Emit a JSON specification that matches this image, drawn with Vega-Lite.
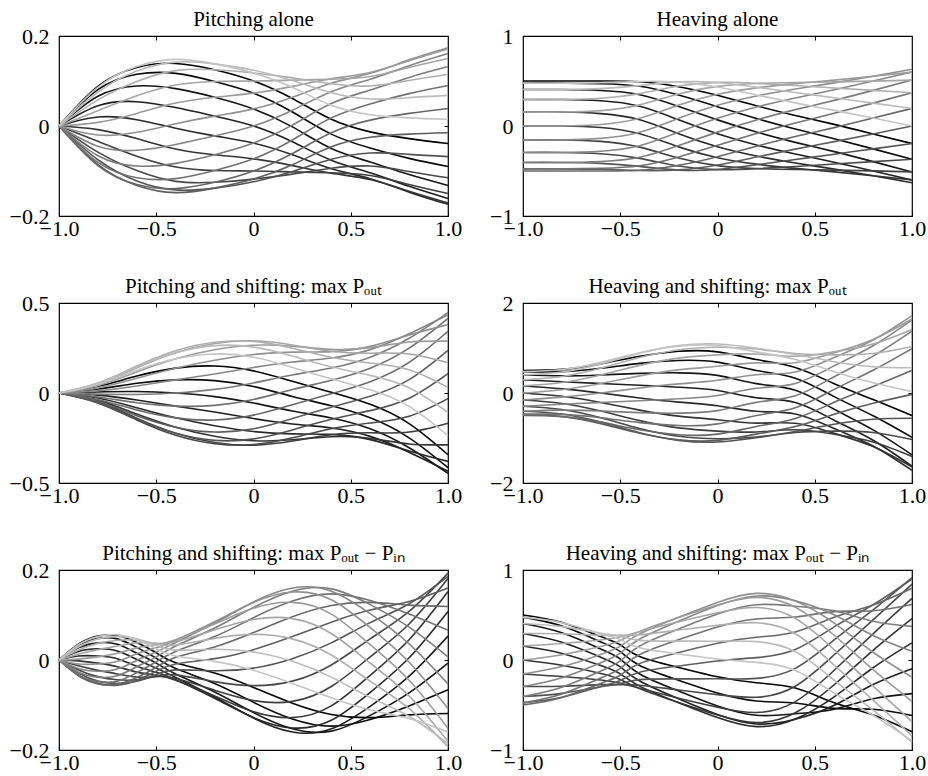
{
"$schema": "https://vega.github.io/schema/vega-lite/v6.json",
"background": "white",
"padding": {"left": 8, "top": 8, "right": 5, "bottom": 5},
"config": {
 "view": {"stroke": "#000", "strokeWidth": 1.2},
 "axis": {"grid": false, "domain": false, "tickColor": "#000", "tickWidth": 1, "tickSize": -4, "labelFont": "Liberation Serif", "labelFontSize": 22, "labelColor": "#000", "labelPadding": 6, "title": null, "labelOverlap": false},
 "axisX": {"labelFlush": false},
 "axisY": {"labelPadding": 14},
 "title": {"font": "Liberation Serif", "fontSize": 21, "fontWeight": "normal", "color": "#000", "offset": -5},
 "line": {"strokeWidth": 1.6, "interpolate": "natural", "clip": true}
},
"datasets": {
"p1": [
{"k":0,"x":-1,"y":0},{"k":0,"x":-0.8,"y":0.088},{"k":0,"x":-0.6,"y":0.13},{"k":0,"x":-0.4,"y":0.139},{"k":0,"x":-0.2,"y":0.125},{"k":0,"x":0,"y":0.1},{"k":0,"x":0.2,"y":0.061},{"k":0,"x":0.4,"y":0.015},{"k":0,"x":0.6,"y":-0.013},{"k":0,"x":0.8,"y":-0.028},{"k":0,"x":1,"y":-0.039},
{"k":1,"x":-1,"y":0},{"k":1,"x":-0.8,"y":0.081},{"k":1,"x":-0.6,"y":0.115},{"k":1,"x":-0.4,"y":0.117},{"k":1,"x":-0.2,"y":0.099},{"k":1,"x":0,"y":0.073},{"k":1,"x":0.2,"y":0.031},{"k":1,"x":0.4,"y":-0.018},{"k":1,"x":0.6,"y":-0.049},{"k":1,"x":0.8,"y":-0.072},{"k":1,"x":1,"y":-0.09},
{"k":2,"x":-1,"y":0},{"k":2,"x":-0.8,"y":0.066},{"k":2,"x":-0.6,"y":0.089},{"k":2,"x":-0.4,"y":0.083},{"k":2,"x":-0.2,"y":0.064},{"k":2,"x":0,"y":0.038},{"k":2,"x":0.2,"y":-0.002},{"k":2,"x":0.4,"y":-0.05},{"k":2,"x":0.6,"y":-0.08},{"k":2,"x":0.8,"y":-0.108},{"k":2,"x":1,"y":-0.132},
{"k":3,"x":-1,"y":0},{"k":3,"x":-0.8,"y":0.045},{"k":3,"x":-0.6,"y":0.054},{"k":3,"x":-0.4,"y":0.041},{"k":3,"x":-0.2,"y":0.022},{"k":3,"x":0,"y":0},{"k":3,"x":0.2,"y":-0.035},{"k":3,"x":0.4,"y":-0.076},{"k":3,"x":0.6,"y":-0.104},{"k":3,"x":0.8,"y":-0.134},{"k":3,"x":1,"y":-0.161},
{"k":4,"x":-1,"y":0},{"k":4,"x":-0.8,"y":0.02},{"k":4,"x":-0.6,"y":0.014},{"k":4,"x":-0.4,"y":-0.005},{"k":4,"x":-0.2,"y":-0.022},{"k":4,"x":0,"y":-0.038},{"k":4,"x":0.2,"y":-0.064},{"k":4,"x":0.4,"y":-0.095},{"k":4,"x":0.6,"y":-0.117},{"k":4,"x":0.8,"y":-0.147},{"k":4,"x":1,"y":-0.174},
{"k":5,"x":-1,"y":0},{"k":5,"x":-0.8,"y":-0.008},{"k":5,"x":-0.6,"y":-0.028},{"k":5,"x":-0.4,"y":-0.051},{"k":5,"x":-0.2,"y":-0.064},{"k":5,"x":0,"y":-0.073},{"k":5,"x":0.2,"y":-0.088},{"k":5,"x":0.4,"y":-0.105},{"k":5,"x":0.6,"y":-0.119},{"k":5,"x":0.8,"y":-0.145},{"k":5,"x":1,"y":-0.171},
{"k":6,"x":-1,"y":0},{"k":6,"x":-0.8,"y":-0.034},{"k":6,"x":-0.6,"y":-0.067},{"k":6,"x":-0.4,"y":-0.091},{"k":6,"x":-0.2,"y":-0.099},{"k":6,"x":0,"y":-0.1},{"k":6,"x":0.2,"y":-0.102},{"k":6,"x":0.4,"y":-0.104},{"k":6,"x":0.6,"y":-0.11},{"k":6,"x":0.8,"y":-0.13},{"k":6,"x":1,"y":-0.15},
{"k":7,"x":-1,"y":0},{"k":7,"x":-0.8,"y":-0.058},{"k":7,"x":-0.6,"y":-0.099},{"k":7,"x":-0.4,"y":-0.123},{"k":7,"x":-0.2,"y":-0.125},{"k":7,"x":0,"y":-0.118},{"k":7,"x":0.2,"y":-0.107},{"k":7,"x":0.4,"y":-0.094},{"k":7,"x":0.6,"y":-0.089},{"k":7,"x":0.8,"y":-0.101},{"k":7,"x":1,"y":-0.115},
{"k":8,"x":-1,"y":0},{"k":8,"x":-0.8,"y":-0.075},{"k":8,"x":-0.6,"y":-0.122},{"k":8,"x":-0.4,"y":-0.142},{"k":8,"x":-0.2,"y":-0.138},{"k":8,"x":0,"y":-0.124},{"k":8,"x":0.2,"y":-0.101},{"k":8,"x":0.4,"y":-0.074},{"k":8,"x":0.6,"y":-0.06},{"k":8,"x":0.8,"y":-0.063},{"k":8,"x":1,"y":-0.068},
{"k":9,"x":-1,"y":0},{"k":9,"x":-0.8,"y":-0.086},{"k":9,"x":-0.6,"y":-0.132},{"k":9,"x":-0.4,"y":-0.148},{"k":9,"x":-0.2,"y":-0.138},{"k":9,"x":0,"y":-0.118},{"k":9,"x":0.2,"y":-0.086},{"k":9,"x":0.4,"y":-0.046},{"k":9,"x":0.6,"y":-0.025},{"k":9,"x":0.8,"y":-0.018},{"k":9,"x":1,"y":-0.015},
{"k":10,"x":-1,"y":0},{"k":10,"x":-0.8,"y":-0.088},{"k":10,"x":-0.6,"y":-0.13},{"k":10,"x":-0.4,"y":-0.139},{"k":10,"x":-0.2,"y":-0.125},{"k":10,"x":0,"y":-0.1},{"k":10,"x":0.2,"y":-0.061},{"k":10,"x":0.4,"y":-0.015},{"k":10,"x":0.6,"y":0.013},{"k":10,"x":0.8,"y":0.028},{"k":10,"x":1,"y":0.039},
{"k":11,"x":-1,"y":0},{"k":11,"x":-0.8,"y":-0.081},{"k":11,"x":-0.6,"y":-0.115},{"k":11,"x":-0.4,"y":-0.117},{"k":11,"x":-0.2,"y":-0.099},{"k":11,"x":0,"y":-0.073},{"k":11,"x":0.2,"y":-0.031},{"k":11,"x":0.4,"y":0.018},{"k":11,"x":0.6,"y":0.049},{"k":11,"x":0.8,"y":0.072},{"k":11,"x":1,"y":0.09},
{"k":12,"x":-1,"y":0},{"k":12,"x":-0.8,"y":-0.066},{"k":12,"x":-0.6,"y":-0.089},{"k":12,"x":-0.4,"y":-0.083},{"k":12,"x":-0.2,"y":-0.064},{"k":12,"x":0,"y":-0.038},{"k":12,"x":0.2,"y":0.002},{"k":12,"x":0.4,"y":0.05},{"k":12,"x":0.6,"y":0.08},{"k":12,"x":0.8,"y":0.108},{"k":12,"x":1,"y":0.132},
{"k":13,"x":-1,"y":0},{"k":13,"x":-0.8,"y":-0.045},{"k":13,"x":-0.6,"y":-0.054},{"k":13,"x":-0.4,"y":-0.041},{"k":13,"x":-0.2,"y":-0.022},{"k":13,"x":0,"y":0},{"k":13,"x":0.2,"y":0.035},{"k":13,"x":0.4,"y":0.076},{"k":13,"x":0.6,"y":0.104},{"k":13,"x":0.8,"y":0.134},{"k":13,"x":1,"y":0.161},
{"k":14,"x":-1,"y":0},{"k":14,"x":-0.8,"y":-0.02},{"k":14,"x":-0.6,"y":-0.014},{"k":14,"x":-0.4,"y":0.005},{"k":14,"x":-0.2,"y":0.022},{"k":14,"x":0,"y":0.038},{"k":14,"x":0.2,"y":0.064},{"k":14,"x":0.4,"y":0.095},{"k":14,"x":0.6,"y":0.117},{"k":14,"x":0.8,"y":0.147},{"k":14,"x":1,"y":0.174},
{"k":15,"x":-1,"y":0},{"k":15,"x":-0.8,"y":0.008},{"k":15,"x":-0.6,"y":0.028},{"k":15,"x":-0.4,"y":0.051},{"k":15,"x":-0.2,"y":0.064},{"k":15,"x":0,"y":0.073},{"k":15,"x":0.2,"y":0.088},{"k":15,"x":0.4,"y":0.105},{"k":15,"x":0.6,"y":0.119},{"k":15,"x":0.8,"y":0.145},{"k":15,"x":1,"y":0.171},
{"k":16,"x":-1,"y":0},{"k":16,"x":-0.8,"y":0.034},{"k":16,"x":-0.6,"y":0.067},{"k":16,"x":-0.4,"y":0.091},{"k":16,"x":-0.2,"y":0.099},{"k":16,"x":0,"y":0.1},{"k":16,"x":0.2,"y":0.102},{"k":16,"x":0.4,"y":0.104},{"k":16,"x":0.6,"y":0.11},{"k":16,"x":0.8,"y":0.13},{"k":16,"x":1,"y":0.15},
{"k":17,"x":-1,"y":0},{"k":17,"x":-0.8,"y":0.058},{"k":17,"x":-0.6,"y":0.099},{"k":17,"x":-0.4,"y":0.123},{"k":17,"x":-0.2,"y":0.125},{"k":17,"x":0,"y":0.118},{"k":17,"x":0.2,"y":0.107},{"k":17,"x":0.4,"y":0.094},{"k":17,"x":0.6,"y":0.089},{"k":17,"x":0.8,"y":0.101},{"k":17,"x":1,"y":0.115},
{"k":18,"x":-1,"y":0},{"k":18,"x":-0.8,"y":0.075},{"k":18,"x":-0.6,"y":0.122},{"k":18,"x":-0.4,"y":0.142},{"k":18,"x":-0.2,"y":0.138},{"k":18,"x":0,"y":0.124},{"k":18,"x":0.2,"y":0.101},{"k":18,"x":0.4,"y":0.074},{"k":18,"x":0.6,"y":0.06},{"k":18,"x":0.8,"y":0.063},{"k":18,"x":1,"y":0.068},
{"k":19,"x":-1,"y":0},{"k":19,"x":-0.8,"y":0.086},{"k":19,"x":-0.6,"y":0.132},{"k":19,"x":-0.4,"y":0.148},{"k":19,"x":-0.2,"y":0.138},{"k":19,"x":0,"y":0.118},{"k":19,"x":0.2,"y":0.086},{"k":19,"x":0.4,"y":0.046},{"k":19,"x":0.6,"y":0.025},{"k":19,"x":0.8,"y":0.018},{"k":19,"x":1,"y":0.015}
],
"p2": [
{"k":0,"x":-1,"y":0.5},{"k":0,"x":-0.8,"y":0.5},{"k":0,"x":-0.6,"y":0.5},{"k":0,"x":-0.4,"y":0.492},{"k":0,"x":-0.2,"y":0.437},{"k":0,"x":0,"y":0.341},{"k":0,"x":0.2,"y":0.225},{"k":0,"x":0.4,"y":0.117},{"k":0,"x":0.6,"y":0.018},{"k":0,"x":0.8,"y":-0.088},{"k":0,"x":1,"y":-0.195},
{"k":1,"x":-1,"y":0.476},{"k":1,"x":-0.8,"y":0.476},{"k":1,"x":-0.6,"y":0.47},{"k":1,"x":-0.4,"y":0.442},{"k":1,"x":-0.2,"y":0.344},{"k":1,"x":0,"y":0.215},{"k":1,"x":0.2,"y":0.083},{"k":1,"x":0.4,"y":-0.034},{"k":1,"x":0.6,"y":-0.141},{"k":1,"x":0.8,"y":-0.254},{"k":1,"x":1,"y":-0.37},
{"k":2,"x":-1,"y":0.405},{"k":2,"x":-0.8,"y":0.405},{"k":2,"x":-0.6,"y":0.394},{"k":2,"x":-0.4,"y":0.347},{"k":2,"x":-0.2,"y":0.217},{"k":2,"x":0,"y":0.068},{"k":2,"x":0.2,"y":-0.067},{"k":2,"x":0.4,"y":-0.182},{"k":2,"x":0.6,"y":-0.285},{"k":2,"x":0.8,"y":-0.396},{"k":2,"x":1,"y":-0.51},
{"k":3,"x":-1,"y":0.294},{"k":3,"x":-0.8,"y":0.294},{"k":3,"x":-0.6,"y":0.28},{"k":3,"x":-0.4,"y":0.219},{"k":3,"x":-0.2,"y":0.069},{"k":3,"x":0,"y":-0.085},{"k":3,"x":0.2,"y":-0.211},{"k":3,"x":0.4,"y":-0.312},{"k":3,"x":0.6,"y":-0.402},{"k":3,"x":0.8,"y":-0.499},{"k":3,"x":1,"y":-0.599},
{"k":4,"x":-1,"y":0.155},{"k":4,"x":-0.8,"y":0.155},{"k":4,"x":-0.6,"y":0.138},{"k":4,"x":-0.4,"y":0.07},{"k":4,"x":-0.2,"y":-0.086},{"k":4,"x":0,"y":-0.23},{"k":4,"x":0.2,"y":-0.333},{"k":4,"x":0.4,"y":-0.411},{"k":4,"x":0.6,"y":-0.479},{"k":4,"x":0.8,"y":-0.553},{"k":4,"x":1,"y":-0.63},
{"k":5,"x":-1,"y":0},{"k":5,"x":-0.8,"y":0},{"k":5,"x":-0.6,"y":-0.017},{"k":5,"x":-0.4,"y":-0.087},{"k":5,"x":-0.2,"y":-0.232},{"k":5,"x":0,"y":-0.352},{"k":5,"x":0.2,"y":-0.424},{"k":5,"x":0.4,"y":-0.471},{"k":5,"x":0.6,"y":-0.51},{"k":5,"x":0.8,"y":-0.553},{"k":5,"x":1,"y":-0.599},
{"k":6,"x":-1,"y":-0.155},{"k":6,"x":-0.8,"y":-0.155},{"k":6,"x":-0.6,"y":-0.171},{"k":6,"x":-0.4,"y":-0.235},{"k":6,"x":-0.2,"y":-0.356},{"k":6,"x":0,"y":-0.44},{"k":6,"x":0.2,"y":-0.473},{"k":6,"x":0.4,"y":-0.484},{"k":6,"x":0.6,"y":-0.49},{"k":6,"x":0.8,"y":-0.499},{"k":6,"x":1,"y":-0.51},
{"k":7,"x":-1,"y":-0.294},{"k":7,"x":-0.8,"y":-0.294},{"k":7,"x":-0.6,"y":-0.308},{"k":7,"x":-0.4,"y":-0.36},{"k":7,"x":-0.2,"y":-0.445},{"k":7,"x":0,"y":-0.485},{"k":7,"x":0.2,"y":-0.475},{"k":7,"x":0.4,"y":-0.45},{"k":7,"x":0.6,"y":-0.423},{"k":7,"x":0.8,"y":-0.396},{"k":7,"x":1,"y":-0.37},
{"k":8,"x":-1,"y":-0.405},{"k":8,"x":-0.8,"y":-0.405},{"k":8,"x":-0.6,"y":-0.415},{"k":8,"x":-0.4,"y":-0.449},{"k":8,"x":-0.2,"y":-0.49},{"k":8,"x":0,"y":-0.483},{"k":8,"x":0.2,"y":-0.431},{"k":8,"x":0.4,"y":-0.372},{"k":8,"x":0.6,"y":-0.314},{"k":8,"x":0.8,"y":-0.254},{"k":8,"x":1,"y":-0.195},
{"k":9,"x":-1,"y":-0.476},{"k":9,"x":-0.8,"y":-0.476},{"k":9,"x":-0.6,"y":-0.481},{"k":9,"x":-0.4,"y":-0.495},{"k":9,"x":-0.2,"y":-0.488},{"k":9,"x":0,"y":-0.433},{"k":9,"x":0.2,"y":-0.345},{"k":9,"x":0.4,"y":-0.257},{"k":9,"x":0.6,"y":-0.174},{"k":9,"x":0.8,"y":-0.088},{"k":9,"x":1,"y":0},
{"k":10,"x":-1,"y":-0.5},{"k":10,"x":-0.8,"y":-0.5},{"k":10,"x":-0.6,"y":-0.5},{"k":10,"x":-0.4,"y":-0.492},{"k":10,"x":-0.2,"y":-0.437},{"k":10,"x":0,"y":-0.341},{"k":10,"x":0.2,"y":-0.225},{"k":10,"x":0.4,"y":-0.117},{"k":10,"x":0.6,"y":-0.018},{"k":10,"x":0.8,"y":0.088},{"k":10,"x":1,"y":0.195},
{"k":11,"x":-1,"y":-0.476},{"k":11,"x":-0.8,"y":-0.476},{"k":11,"x":-0.6,"y":-0.47},{"k":11,"x":-0.4,"y":-0.442},{"k":11,"x":-0.2,"y":-0.344},{"k":11,"x":0,"y":-0.215},{"k":11,"x":0.2,"y":-0.083},{"k":11,"x":0.4,"y":0.034},{"k":11,"x":0.6,"y":0.141},{"k":11,"x":0.8,"y":0.254},{"k":11,"x":1,"y":0.37},
{"k":12,"x":-1,"y":-0.405},{"k":12,"x":-0.8,"y":-0.405},{"k":12,"x":-0.6,"y":-0.394},{"k":12,"x":-0.4,"y":-0.347},{"k":12,"x":-0.2,"y":-0.217},{"k":12,"x":0,"y":-0.068},{"k":12,"x":0.2,"y":0.067},{"k":12,"x":0.4,"y":0.182},{"k":12,"x":0.6,"y":0.285},{"k":12,"x":0.8,"y":0.396},{"k":12,"x":1,"y":0.51},
{"k":13,"x":-1,"y":-0.294},{"k":13,"x":-0.8,"y":-0.294},{"k":13,"x":-0.6,"y":-0.28},{"k":13,"x":-0.4,"y":-0.219},{"k":13,"x":-0.2,"y":-0.069},{"k":13,"x":0,"y":0.085},{"k":13,"x":0.2,"y":0.211},{"k":13,"x":0.4,"y":0.312},{"k":13,"x":0.6,"y":0.402},{"k":13,"x":0.8,"y":0.499},{"k":13,"x":1,"y":0.599},
{"k":14,"x":-1,"y":-0.155},{"k":14,"x":-0.8,"y":-0.155},{"k":14,"x":-0.6,"y":-0.138},{"k":14,"x":-0.4,"y":-0.07},{"k":14,"x":-0.2,"y":0.086},{"k":14,"x":0,"y":0.23},{"k":14,"x":0.2,"y":0.333},{"k":14,"x":0.4,"y":0.411},{"k":14,"x":0.6,"y":0.479},{"k":14,"x":0.8,"y":0.553},{"k":14,"x":1,"y":0.63},
{"k":15,"x":-1,"y":0},{"k":15,"x":-0.8,"y":0},{"k":15,"x":-0.6,"y":0.017},{"k":15,"x":-0.4,"y":0.087},{"k":15,"x":-0.2,"y":0.232},{"k":15,"x":0,"y":0.352},{"k":15,"x":0.2,"y":0.424},{"k":15,"x":0.4,"y":0.471},{"k":15,"x":0.6,"y":0.51},{"k":15,"x":0.8,"y":0.553},{"k":15,"x":1,"y":0.599},
{"k":16,"x":-1,"y":0.155},{"k":16,"x":-0.8,"y":0.155},{"k":16,"x":-0.6,"y":0.171},{"k":16,"x":-0.4,"y":0.235},{"k":16,"x":-0.2,"y":0.356},{"k":16,"x":0,"y":0.44},{"k":16,"x":0.2,"y":0.473},{"k":16,"x":0.4,"y":0.484},{"k":16,"x":0.6,"y":0.49},{"k":16,"x":0.8,"y":0.499},{"k":16,"x":1,"y":0.51},
{"k":17,"x":-1,"y":0.294},{"k":17,"x":-0.8,"y":0.294},{"k":17,"x":-0.6,"y":0.308},{"k":17,"x":-0.4,"y":0.36},{"k":17,"x":-0.2,"y":0.445},{"k":17,"x":0,"y":0.485},{"k":17,"x":0.2,"y":0.475},{"k":17,"x":0.4,"y":0.45},{"k":17,"x":0.6,"y":0.423},{"k":17,"x":0.8,"y":0.396},{"k":17,"x":1,"y":0.37},
{"k":18,"x":-1,"y":0.405},{"k":18,"x":-0.8,"y":0.405},{"k":18,"x":-0.6,"y":0.415},{"k":18,"x":-0.4,"y":0.449},{"k":18,"x":-0.2,"y":0.49},{"k":18,"x":0,"y":0.483},{"k":18,"x":0.2,"y":0.431},{"k":18,"x":0.4,"y":0.372},{"k":18,"x":0.6,"y":0.314},{"k":18,"x":0.8,"y":0.254},{"k":18,"x":1,"y":0.195},
{"k":19,"x":-1,"y":0.476},{"k":19,"x":-0.8,"y":0.476},{"k":19,"x":-0.6,"y":0.481},{"k":19,"x":-0.4,"y":0.495},{"k":19,"x":-0.2,"y":0.488},{"k":19,"x":0,"y":0.433},{"k":19,"x":0.2,"y":0.345},{"k":19,"x":0.4,"y":0.257},{"k":19,"x":0.6,"y":0.174},{"k":19,"x":0.8,"y":0.088},{"k":19,"x":1,"y":0}
],
"p3": [
{"k":0,"x":-1,"y":0},{"k":0,"x":-0.8,"y":0.037},{"k":0,"x":-0.6,"y":0.094},{"k":0,"x":-0.4,"y":0.138},{"k":0,"x":-0.2,"y":0.15},{"k":0,"x":0,"y":0.123},{"k":0,"x":0.2,"y":0.065},{"k":0,"x":0.4,"y":0.004},{"k":0,"x":0.6,"y":-0.063},{"k":0,"x":0.8,"y":-0.17},{"k":0,"x":1,"y":-0.343},
{"k":1,"x":-1,"y":0},{"k":1,"x":-0.8,"y":0.022},{"k":1,"x":-0.6,"y":0.054},{"k":1,"x":-0.4,"y":0.073},{"k":1,"x":-0.2,"y":0.069},{"k":1,"x":0,"y":0.036},{"k":1,"x":0.2,"y":-0.019},{"k":1,"x":0.4,"y":-0.071},{"k":1,"x":0.6,"y":-0.138},{"k":1,"x":0.8,"y":-0.249},{"k":1,"x":1,"y":-0.415},
{"k":2,"x":-1,"y":0},{"k":2,"x":-0.8,"y":0.006},{"k":2,"x":-0.6,"y":0.008},{"k":2,"x":-0.4,"y":0},{"k":2,"x":-0.2,"y":-0.02},{"k":2,"x":0,"y":-0.056},{"k":2,"x":0.2,"y":-0.1},{"k":2,"x":0.4,"y":-0.139},{"k":2,"x":0.6,"y":-0.199},{"k":2,"x":0.8,"y":-0.304},{"k":2,"x":1,"y":-0.447},
{"k":3,"x":-1,"y":0},{"k":3,"x":-0.8,"y":-0.012},{"k":3,"x":-0.6,"y":-0.039},{"k":3,"x":-0.4,"y":-0.073},{"k":3,"x":-0.2,"y":-0.106},{"k":3,"x":0,"y":-0.142},{"k":3,"x":0.2,"y":-0.172},{"k":3,"x":0.4,"y":-0.194},{"k":3,"x":0.6,"y":-0.241},{"k":3,"x":0.8,"y":-0.329},{"k":3,"x":1,"y":-0.435},
{"k":4,"x":-1,"y":0},{"k":4,"x":-0.8,"y":-0.028},{"k":4,"x":-0.6,"y":-0.082},{"k":4,"x":-0.4,"y":-0.138},{"k":4,"x":-0.2,"y":-0.182},{"k":4,"x":0,"y":-0.214},{"k":4,"x":0.2,"y":-0.227},{"k":4,"x":0.4,"y":-0.23},{"k":4,"x":0.6,"y":-0.259},{"k":4,"x":0.8,"y":-0.322},{"k":4,"x":1,"y":-0.38},
{"k":5,"x":-1,"y":0},{"k":5,"x":-0.8,"y":-0.041},{"k":5,"x":-0.6,"y":-0.117},{"k":5,"x":-0.4,"y":-0.19},{"k":5,"x":-0.2,"y":-0.24},{"k":5,"x":0,"y":-0.265},{"k":5,"x":0.2,"y":-0.26},{"k":5,"x":0.4,"y":-0.243},{"k":5,"x":0.6,"y":-0.252},{"k":5,"x":0.8,"y":-0.283},{"k":5,"x":1,"y":-0.288},
{"k":6,"x":-1,"y":0},{"k":6,"x":-0.8,"y":-0.05},{"k":6,"x":-0.6,"y":-0.14},{"k":6,"x":-0.4,"y":-0.224},{"k":6,"x":-0.2,"y":-0.275},{"k":6,"x":0,"y":-0.29},{"k":6,"x":0.2,"y":-0.267},{"k":6,"x":0.4,"y":-0.232},{"k":6,"x":0.6,"y":-0.221},{"k":6,"x":0.8,"y":-0.217},{"k":6,"x":1,"y":-0.168},
{"k":7,"x":-1,"y":0},{"k":7,"x":-0.8,"y":-0.055},{"k":7,"x":-0.6,"y":-0.15},{"k":7,"x":-0.4,"y":-0.235},{"k":7,"x":-0.2,"y":-0.282},{"k":7,"x":0,"y":-0.287},{"k":7,"x":0.2,"y":-0.249},{"k":7,"x":0.4,"y":-0.199},{"k":7,"x":0.6,"y":-0.167},{"k":7,"x":0.8,"y":-0.129},{"k":7,"x":1,"y":-0.031},
{"k":8,"x":-1,"y":0},{"k":8,"x":-0.8,"y":-0.054},{"k":8,"x":-0.6,"y":-0.145},{"k":8,"x":-0.4,"y":-0.224},{"k":8,"x":-0.2,"y":-0.263},{"k":8,"x":0,"y":-0.255},{"k":8,"x":0.2,"y":-0.205},{"k":8,"x":0.4,"y":-0.146},{"k":8,"x":0.6,"y":-0.098},{"k":8,"x":0.8,"y":-0.029},{"k":8,"x":1,"y":0.108},
{"k":9,"x":-1,"y":0},{"k":9,"x":-0.8,"y":-0.048},{"k":9,"x":-0.6,"y":-0.126},{"k":9,"x":-0.4,"y":-0.19},{"k":9,"x":-0.2,"y":-0.217},{"k":9,"x":0,"y":-0.199},{"k":9,"x":0.2,"y":-0.142},{"k":9,"x":0.4,"y":-0.079},{"k":9,"x":0.6,"y":-0.018},{"k":9,"x":0.8,"y":0.074},{"k":9,"x":1,"y":0.237},
{"k":10,"x":-1,"y":0},{"k":10,"x":-0.8,"y":-0.037},{"k":10,"x":-0.6,"y":-0.094},{"k":10,"x":-0.4,"y":-0.138},{"k":10,"x":-0.2,"y":-0.15},{"k":10,"x":0,"y":-0.123},{"k":10,"x":0.2,"y":-0.065},{"k":10,"x":0.4,"y":-0.004},{"k":10,"x":0.6,"y":0.063},{"k":10,"x":0.8,"y":0.17},{"k":10,"x":1,"y":0.343},
{"k":11,"x":-1,"y":0},{"k":11,"x":-0.8,"y":-0.022},{"k":11,"x":-0.6,"y":-0.054},{"k":11,"x":-0.4,"y":-0.073},{"k":11,"x":-0.2,"y":-0.069},{"k":11,"x":0,"y":-0.036},{"k":11,"x":0.2,"y":0.019},{"k":11,"x":0.4,"y":0.071},{"k":11,"x":0.6,"y":0.138},{"k":11,"x":0.8,"y":0.249},{"k":11,"x":1,"y":0.415},
{"k":12,"x":-1,"y":0},{"k":12,"x":-0.8,"y":-0.006},{"k":12,"x":-0.6,"y":-0.008},{"k":12,"x":-0.4,"y":0},{"k":12,"x":-0.2,"y":0.02},{"k":12,"x":0,"y":0.056},{"k":12,"x":0.2,"y":0.1},{"k":12,"x":0.4,"y":0.139},{"k":12,"x":0.6,"y":0.199},{"k":12,"x":0.8,"y":0.304},{"k":12,"x":1,"y":0.447},
{"k":13,"x":-1,"y":0},{"k":13,"x":-0.8,"y":0.012},{"k":13,"x":-0.6,"y":0.039},{"k":13,"x":-0.4,"y":0.073},{"k":13,"x":-0.2,"y":0.106},{"k":13,"x":0,"y":0.142},{"k":13,"x":0.2,"y":0.172},{"k":13,"x":0.4,"y":0.194},{"k":13,"x":0.6,"y":0.241},{"k":13,"x":0.8,"y":0.329},{"k":13,"x":1,"y":0.435},
{"k":14,"x":-1,"y":0},{"k":14,"x":-0.8,"y":0.028},{"k":14,"x":-0.6,"y":0.082},{"k":14,"x":-0.4,"y":0.138},{"k":14,"x":-0.2,"y":0.182},{"k":14,"x":0,"y":0.214},{"k":14,"x":0.2,"y":0.227},{"k":14,"x":0.4,"y":0.23},{"k":14,"x":0.6,"y":0.259},{"k":14,"x":0.8,"y":0.322},{"k":14,"x":1,"y":0.38},
{"k":15,"x":-1,"y":0},{"k":15,"x":-0.8,"y":0.041},{"k":15,"x":-0.6,"y":0.117},{"k":15,"x":-0.4,"y":0.19},{"k":15,"x":-0.2,"y":0.24},{"k":15,"x":0,"y":0.265},{"k":15,"x":0.2,"y":0.26},{"k":15,"x":0.4,"y":0.243},{"k":15,"x":0.6,"y":0.252},{"k":15,"x":0.8,"y":0.283},{"k":15,"x":1,"y":0.288},
{"k":16,"x":-1,"y":0},{"k":16,"x":-0.8,"y":0.05},{"k":16,"x":-0.6,"y":0.14},{"k":16,"x":-0.4,"y":0.224},{"k":16,"x":-0.2,"y":0.275},{"k":16,"x":0,"y":0.29},{"k":16,"x":0.2,"y":0.267},{"k":16,"x":0.4,"y":0.232},{"k":16,"x":0.6,"y":0.221},{"k":16,"x":0.8,"y":0.217},{"k":16,"x":1,"y":0.168},
{"k":17,"x":-1,"y":0},{"k":17,"x":-0.8,"y":0.055},{"k":17,"x":-0.6,"y":0.15},{"k":17,"x":-0.4,"y":0.235},{"k":17,"x":-0.2,"y":0.282},{"k":17,"x":0,"y":0.287},{"k":17,"x":0.2,"y":0.249},{"k":17,"x":0.4,"y":0.199},{"k":17,"x":0.6,"y":0.167},{"k":17,"x":0.8,"y":0.129},{"k":17,"x":1,"y":0.031},
{"k":18,"x":-1,"y":0},{"k":18,"x":-0.8,"y":0.054},{"k":18,"x":-0.6,"y":0.145},{"k":18,"x":-0.4,"y":0.224},{"k":18,"x":-0.2,"y":0.263},{"k":18,"x":0,"y":0.255},{"k":18,"x":0.2,"y":0.205},{"k":18,"x":0.4,"y":0.146},{"k":18,"x":0.6,"y":0.098},{"k":18,"x":0.8,"y":0.029},{"k":18,"x":1,"y":-0.108},
{"k":19,"x":-1,"y":0},{"k":19,"x":-0.8,"y":0.048},{"k":19,"x":-0.6,"y":0.126},{"k":19,"x":-0.4,"y":0.19},{"k":19,"x":-0.2,"y":0.217},{"k":19,"x":0,"y":0.199},{"k":19,"x":0.2,"y":0.142},{"k":19,"x":0.4,"y":0.079},{"k":19,"x":0.6,"y":0.018},{"k":19,"x":0.8,"y":-0.074},{"k":19,"x":1,"y":-0.237}
],
"p4": [
{"k":0,"x":-1,"y":0.5},{"k":0,"x":-0.8,"y":0.525},{"k":0,"x":-0.6,"y":0.647},{"k":0,"x":-0.4,"y":0.816},{"k":0,"x":-0.2,"y":0.927},{"k":0,"x":0,"y":0.914},{"k":0,"x":0.2,"y":0.743},{"k":0,"x":0.4,"y":0.566},{"k":0,"x":0.6,"y":0.207},{"k":0,"x":0.8,"y":-0.146},{"k":0,"x":1,"y":-0.503},
{"k":1,"x":-1,"y":0.476},{"k":1,"x":-0.8,"y":0.476},{"k":1,"x":-0.6,"y":0.55},{"k":1,"x":-0.4,"y":0.658},{"k":1,"x":-0.2,"y":0.723},{"k":1,"x":0,"y":0.686},{"k":1,"x":0.2,"y":0.5},{"k":1,"x":0.4,"y":0.33},{"k":1,"x":0.6,"y":-0.08},{"k":1,"x":0.8,"y":-0.507},{"k":1,"x":1,"y":-0.987},
{"k":2,"x":-1,"y":0.405},{"k":2,"x":-0.8,"y":0.381},{"k":2,"x":-0.6,"y":0.4},{"k":2,"x":-0.4,"y":0.436},{"k":2,"x":-0.2,"y":0.448},{"k":2,"x":0,"y":0.391},{"k":2,"x":0.2,"y":0.208},{"k":2,"x":0.4,"y":0.061},{"k":2,"x":0.6,"y":-0.36},{"k":2,"x":0.8,"y":-0.819},{"k":2,"x":1,"y":-1.374},
{"k":3,"x":-1,"y":0.294},{"k":3,"x":-0.8,"y":0.249},{"k":3,"x":-0.6,"y":0.21},{"k":3,"x":-0.4,"y":0.172},{"k":3,"x":-0.2,"y":0.129},{"k":3,"x":0,"y":0.057},{"k":3,"x":0.2,"y":-0.104},{"k":3,"x":0.4,"y":-0.213},{"k":3,"x":0.6,"y":-0.604},{"k":3,"x":0.8,"y":-1.05},{"k":3,"x":1,"y":-1.626},
{"k":4,"x":-1,"y":0.155},{"k":4,"x":-0.8,"y":0.092},{"k":4,"x":-0.6,"y":0},{"k":4,"x":-0.4,"y":-0.11},{"k":4,"x":-0.2,"y":-0.202},{"k":4,"x":0,"y":-0.282},{"k":4,"x":0.2,"y":-0.407},{"k":4,"x":0.4,"y":-0.466},{"k":4,"x":0.6,"y":-0.789},{"k":4,"x":0.8,"y":-1.178},{"k":4,"x":1,"y":-1.72},
{"k":5,"x":-1,"y":0},{"k":5,"x":-0.8,"y":-0.074},{"k":5,"x":-0.6,"y":-0.21},{"k":5,"x":-0.4,"y":-0.38},{"k":5,"x":-0.2,"y":-0.514},{"k":5,"x":0,"y":-0.594},{"k":5,"x":0.2,"y":-0.669},{"k":5,"x":0.4,"y":-0.674},{"k":5,"x":0.6,"y":-0.896},{"k":5,"x":0.8,"y":-1.191},{"k":5,"x":1,"y":-1.645},
{"k":6,"x":-1,"y":-0.155},{"k":6,"x":-0.8,"y":-0.232},{"k":6,"x":-0.6,"y":-0.4},{"k":6,"x":-0.4,"y":-0.614},{"k":6,"x":-0.2,"y":-0.775},{"k":6,"x":0,"y":-0.847},{"k":6,"x":0.2,"y":-0.866},{"k":6,"x":0.4,"y":-0.816},{"k":6,"x":0.6,"y":-0.917},{"k":6,"x":0.8,"y":-1.088},{"k":6,"x":1,"y":-1.409},
{"k":7,"x":-1,"y":-0.294},{"k":7,"x":-0.8,"y":-0.368},{"k":7,"x":-0.6,"y":-0.55},{"k":7,"x":-0.4,"y":-0.787},{"k":7,"x":-0.2,"y":-0.961},{"k":7,"x":0,"y":-1.018},{"k":7,"x":0.2,"y":-0.978},{"k":7,"x":0.4,"y":-0.878},{"k":7,"x":0.6,"y":-0.847},{"k":7,"x":0.8,"y":-0.878},{"k":7,"x":1,"y":-1.035},
{"k":8,"x":-1,"y":-0.405},{"k":8,"x":-0.8,"y":-0.468},{"k":8,"x":-0.6,"y":-0.647},{"k":8,"x":-0.4,"y":-0.884},{"k":8,"x":-0.2,"y":-1.052},{"k":8,"x":0,"y":-1.089},{"k":8,"x":0.2,"y":-0.995},{"k":8,"x":0.4,"y":-0.854},{"k":8,"x":0.6,"y":-0.695},{"k":8,"x":0.8,"y":-0.582},{"k":8,"x":1,"y":-0.56},
{"k":9,"x":-1,"y":-0.476},{"k":9,"x":-0.8,"y":-0.522},{"k":9,"x":-0.6,"y":-0.68},{"k":9,"x":-0.4,"y":-0.893},{"k":9,"x":-0.2,"y":-1.041},{"k":9,"x":0,"y":-1.053},{"k":9,"x":0.2,"y":-0.914},{"k":9,"x":0.4,"y":-0.746},{"k":9,"x":0.6,"y":-0.474},{"k":9,"x":0.8,"y":-0.229},{"k":9,"x":1,"y":-0.03},
{"k":10,"x":-1,"y":-0.5},{"k":10,"x":-0.8,"y":-0.525},{"k":10,"x":-0.6,"y":-0.647},{"k":10,"x":-0.4,"y":-0.816},{"k":10,"x":-0.2,"y":-0.927},{"k":10,"x":0,"y":-0.914},{"k":10,"x":0.2,"y":-0.743},{"k":10,"x":0.4,"y":-0.566},{"k":10,"x":0.6,"y":-0.207},{"k":10,"x":0.8,"y":0.146},{"k":10,"x":1,"y":0.503},
{"k":11,"x":-1,"y":-0.476},{"k":11,"x":-0.8,"y":-0.476},{"k":11,"x":-0.6,"y":-0.55},{"k":11,"x":-0.4,"y":-0.658},{"k":11,"x":-0.2,"y":-0.723},{"k":11,"x":0,"y":-0.686},{"k":11,"x":0.2,"y":-0.5},{"k":11,"x":0.4,"y":-0.33},{"k":11,"x":0.6,"y":0.08},{"k":11,"x":0.8,"y":0.507},{"k":11,"x":1,"y":0.987},
{"k":12,"x":-1,"y":-0.405},{"k":12,"x":-0.8,"y":-0.381},{"k":12,"x":-0.6,"y":-0.4},{"k":12,"x":-0.4,"y":-0.436},{"k":12,"x":-0.2,"y":-0.448},{"k":12,"x":0,"y":-0.391},{"k":12,"x":0.2,"y":-0.208},{"k":12,"x":0.4,"y":-0.061},{"k":12,"x":0.6,"y":0.36},{"k":12,"x":0.8,"y":0.819},{"k":12,"x":1,"y":1.374},
{"k":13,"x":-1,"y":-0.294},{"k":13,"x":-0.8,"y":-0.249},{"k":13,"x":-0.6,"y":-0.21},{"k":13,"x":-0.4,"y":-0.172},{"k":13,"x":-0.2,"y":-0.129},{"k":13,"x":0,"y":-0.057},{"k":13,"x":0.2,"y":0.104},{"k":13,"x":0.4,"y":0.213},{"k":13,"x":0.6,"y":0.604},{"k":13,"x":0.8,"y":1.05},{"k":13,"x":1,"y":1.626},
{"k":14,"x":-1,"y":-0.155},{"k":14,"x":-0.8,"y":-0.092},{"k":14,"x":-0.6,"y":0},{"k":14,"x":-0.4,"y":0.11},{"k":14,"x":-0.2,"y":0.202},{"k":14,"x":0,"y":0.282},{"k":14,"x":0.2,"y":0.407},{"k":14,"x":0.4,"y":0.466},{"k":14,"x":0.6,"y":0.789},{"k":14,"x":0.8,"y":1.178},{"k":14,"x":1,"y":1.72},
{"k":15,"x":-1,"y":0},{"k":15,"x":-0.8,"y":0.074},{"k":15,"x":-0.6,"y":0.21},{"k":15,"x":-0.4,"y":0.38},{"k":15,"x":-0.2,"y":0.514},{"k":15,"x":0,"y":0.594},{"k":15,"x":0.2,"y":0.669},{"k":15,"x":0.4,"y":0.674},{"k":15,"x":0.6,"y":0.896},{"k":15,"x":0.8,"y":1.191},{"k":15,"x":1,"y":1.645},
{"k":16,"x":-1,"y":0.155},{"k":16,"x":-0.8,"y":0.232},{"k":16,"x":-0.6,"y":0.4},{"k":16,"x":-0.4,"y":0.614},{"k":16,"x":-0.2,"y":0.775},{"k":16,"x":0,"y":0.847},{"k":16,"x":0.2,"y":0.866},{"k":16,"x":0.4,"y":0.816},{"k":16,"x":0.6,"y":0.917},{"k":16,"x":0.8,"y":1.088},{"k":16,"x":1,"y":1.409},
{"k":17,"x":-1,"y":0.294},{"k":17,"x":-0.8,"y":0.368},{"k":17,"x":-0.6,"y":0.55},{"k":17,"x":-0.4,"y":0.787},{"k":17,"x":-0.2,"y":0.961},{"k":17,"x":0,"y":1.018},{"k":17,"x":0.2,"y":0.978},{"k":17,"x":0.4,"y":0.878},{"k":17,"x":0.6,"y":0.847},{"k":17,"x":0.8,"y":0.878},{"k":17,"x":1,"y":1.035},
{"k":18,"x":-1,"y":0.405},{"k":18,"x":-0.8,"y":0.468},{"k":18,"x":-0.6,"y":0.647},{"k":18,"x":-0.4,"y":0.884},{"k":18,"x":-0.2,"y":1.052},{"k":18,"x":0,"y":1.089},{"k":18,"x":0.2,"y":0.995},{"k":18,"x":0.4,"y":0.854},{"k":18,"x":0.6,"y":0.695},{"k":18,"x":0.8,"y":0.582},{"k":18,"x":1,"y":0.56},
{"k":19,"x":-1,"y":0.476},{"k":19,"x":-0.8,"y":0.522},{"k":19,"x":-0.6,"y":0.68},{"k":19,"x":-0.4,"y":0.893},{"k":19,"x":-0.2,"y":1.041},{"k":19,"x":0,"y":1.053},{"k":19,"x":0.2,"y":0.914},{"k":19,"x":0.4,"y":0.746},{"k":19,"x":0.6,"y":0.474},{"k":19,"x":0.8,"y":0.229},{"k":19,"x":1,"y":0.03}
],
"p5": [
{"k":0,"x":-1,"y":0},{"k":0,"x":-0.9,"y":0.035},{"k":0,"x":-0.8,"y":0.053},{"k":0,"x":-0.7,"y":0.054},{"k":0,"x":-0.6,"y":0.039},{"k":0,"x":-0.5,"y":0.016},{"k":0,"x":-0.4,"y":-0.006},{"k":0,"x":-0.2,"y":-0.029},{"k":0,"x":0,"y":-0.061},{"k":0,"x":0.2,"y":-0.096},{"k":0,"x":0.4,"y":-0.121},{"k":0,"x":0.6,"y":-0.128},{"k":0,"x":0.8,"y":-0.122},{"k":0,"x":1,"y":-0.119},
{"k":1,"x":-1,"y":0},{"k":1,"x":-0.9,"y":0.033},{"k":1,"x":-0.8,"y":0.048},{"k":1,"x":-0.7,"y":0.047},{"k":1,"x":-0.6,"y":0.028},{"k":1,"x":-0.5,"y":0.004},{"k":1,"x":-0.4,"y":-0.019},{"k":1,"x":-0.2,"y":-0.052},{"k":1,"x":0,"y":-0.094},{"k":1,"x":0.2,"y":-0.131},{"k":1,"x":0.4,"y":-0.147},{"k":1,"x":0.6,"y":-0.132},{"k":1,"x":0.8,"y":-0.102},{"k":1,"x":1,"y":-0.066},
{"k":2,"x":-1,"y":0},{"k":2,"x":-0.9,"y":0.027},{"k":2,"x":-0.8,"y":0.038},{"k":2,"x":-0.7,"y":0.035},{"k":2,"x":-0.6,"y":0.015},{"k":2,"x":-0.5,"y":-0.007},{"k":2,"x":-0.4,"y":-0.031},{"k":2,"x":-0.2,"y":-0.071},{"k":2,"x":0,"y":-0.117},{"k":2,"x":0.2,"y":-0.153},{"k":2,"x":0.4,"y":-0.158},{"k":2,"x":0.6,"y":-0.123},{"k":2,"x":0.8,"y":-0.073},{"k":2,"x":1,"y":-0.007},
{"k":3,"x":-1,"y":0},{"k":3,"x":-0.9,"y":0.019},{"k":3,"x":-0.8,"y":0.025},{"k":3,"x":-0.7,"y":0.02},{"k":3,"x":-0.6,"y":0.001},{"k":3,"x":-0.5,"y":-0.018},{"k":3,"x":-0.4,"y":-0.039},{"k":3,"x":-0.2,"y":-0.082},{"k":3,"x":0,"y":-0.129},{"k":3,"x":0.2,"y":-0.16},{"k":3,"x":0.4,"y":-0.153},{"k":3,"x":0.6,"y":-0.103},{"k":3,"x":0.8,"y":-0.036},{"k":3,"x":1,"y":0.053},
{"k":4,"x":-1,"y":0},{"k":4,"x":-0.9,"y":0.009},{"k":4,"x":-0.8,"y":0.009},{"k":4,"x":-0.7,"y":0.003},{"k":4,"x":-0.6,"y":-0.014},{"k":4,"x":-0.5,"y":-0.027},{"k":4,"x":-0.4,"y":-0.044},{"k":4,"x":-0.2,"y":-0.085},{"k":4,"x":0,"y":-0.128},{"k":4,"x":0.2,"y":-0.151},{"k":4,"x":0.4,"y":-0.134},{"k":4,"x":0.6,"y":-0.072},{"k":4,"x":0.8,"y":0.005},{"k":4,"x":1,"y":0.108},
{"k":5,"x":-1,"y":0},{"k":5,"x":-0.9,"y":-0.002},{"k":5,"x":-0.8,"y":-0.007},{"k":5,"x":-0.7,"y":-0.015},{"k":5,"x":-0.6,"y":-0.027},{"k":5,"x":-0.5,"y":-0.034},{"k":5,"x":-0.4,"y":-0.045},{"k":5,"x":-0.2,"y":-0.08},{"k":5,"x":0,"y":-0.115},{"k":5,"x":0.2,"y":-0.128},{"k":5,"x":0.4,"y":-0.102},{"k":5,"x":0.6,"y":-0.034},{"k":5,"x":0.8,"y":0.045},{"k":5,"x":1,"y":0.152},
{"k":6,"x":-1,"y":0},{"k":6,"x":-0.9,"y":-0.013},{"k":6,"x":-0.8,"y":-0.023},{"k":6,"x":-0.7,"y":-0.031},{"k":6,"x":-0.6,"y":-0.038},{"k":6,"x":-0.5,"y":-0.037},{"k":6,"x":-0.4,"y":-0.041},{"k":6,"x":-0.2,"y":-0.067},{"k":6,"x":0,"y":-0.09},{"k":6,"x":0.2,"y":-0.092},{"k":6,"x":0.4,"y":-0.059},{"k":6,"x":0.6,"y":0.007},{"k":6,"x":0.8,"y":0.08},{"k":6,"x":1,"y":0.181},
{"k":7,"x":-1,"y":0},{"k":7,"x":-0.9,"y":-0.022},{"k":7,"x":-0.8,"y":-0.037},{"k":7,"x":-0.7,"y":-0.044},{"k":7,"x":-0.6,"y":-0.044},{"k":7,"x":-0.5,"y":-0.036},{"k":7,"x":-0.4,"y":-0.033},{"k":7,"x":-0.2,"y":-0.048},{"k":7,"x":0,"y":-0.057},{"k":7,"x":0.2,"y":-0.047},{"k":7,"x":0.4,"y":-0.011},{"k":7,"x":0.6,"y":0.047},{"k":7,"x":0.8,"y":0.108},{"k":7,"x":1,"y":0.193},
{"k":8,"x":-1,"y":0},{"k":8,"x":-0.9,"y":-0.029},{"k":8,"x":-0.8,"y":-0.047},{"k":8,"x":-0.7,"y":-0.052},{"k":8,"x":-0.6,"y":-0.047},{"k":8,"x":-0.5,"y":-0.032},{"k":8,"x":-0.4,"y":-0.022},{"k":8,"x":-0.2,"y":-0.024},{"k":8,"x":0,"y":-0.018},{"k":8,"x":0.2,"y":0.003},{"k":8,"x":0.4,"y":0.038},{"k":8,"x":0.6,"y":0.083},{"k":8,"x":0.8,"y":0.125},{"k":8,"x":1,"y":0.186},
{"k":9,"x":-1,"y":0},{"k":9,"x":-0.9,"y":-0.034},{"k":9,"x":-0.8,"y":-0.052},{"k":9,"x":-0.7,"y":-0.056},{"k":9,"x":-0.6,"y":-0.045},{"k":9,"x":-0.5,"y":-0.025},{"k":9,"x":-0.4,"y":-0.009},{"k":9,"x":-0.2,"y":0.003},{"k":9,"x":0,"y":0.023},{"k":9,"x":0.2,"y":0.052},{"k":9,"x":0.4,"y":0.084},{"k":9,"x":0.6,"y":0.111},{"k":9,"x":0.8,"y":0.13},{"k":9,"x":1,"y":0.16},
{"k":10,"x":-1,"y":0},{"k":10,"x":-0.9,"y":-0.035},{"k":10,"x":-0.8,"y":-0.053},{"k":10,"x":-0.7,"y":-0.054},{"k":10,"x":-0.6,"y":-0.039},{"k":10,"x":-0.5,"y":-0.016},{"k":10,"x":-0.4,"y":0.006},{"k":10,"x":-0.2,"y":0.029},{"k":10,"x":0,"y":0.061},{"k":10,"x":0.2,"y":0.096},{"k":10,"x":0.4,"y":0.121},{"k":10,"x":0.6,"y":0.128},{"k":10,"x":0.8,"y":0.122},{"k":10,"x":1,"y":0.119},
{"k":11,"x":-1,"y":0},{"k":11,"x":-0.9,"y":-0.033},{"k":11,"x":-0.8,"y":-0.048},{"k":11,"x":-0.7,"y":-0.047},{"k":11,"x":-0.6,"y":-0.028},{"k":11,"x":-0.5,"y":-0.004},{"k":11,"x":-0.4,"y":0.019},{"k":11,"x":-0.2,"y":0.052},{"k":11,"x":0,"y":0.094},{"k":11,"x":0.2,"y":0.131},{"k":11,"x":0.4,"y":0.147},{"k":11,"x":0.6,"y":0.132},{"k":11,"x":0.8,"y":0.102},{"k":11,"x":1,"y":0.066},
{"k":12,"x":-1,"y":0},{"k":12,"x":-0.9,"y":-0.027},{"k":12,"x":-0.8,"y":-0.038},{"k":12,"x":-0.7,"y":-0.035},{"k":12,"x":-0.6,"y":-0.015},{"k":12,"x":-0.5,"y":0.007},{"k":12,"x":-0.4,"y":0.031},{"k":12,"x":-0.2,"y":0.071},{"k":12,"x":0,"y":0.117},{"k":12,"x":0.2,"y":0.153},{"k":12,"x":0.4,"y":0.158},{"k":12,"x":0.6,"y":0.123},{"k":12,"x":0.8,"y":0.073},{"k":12,"x":1,"y":0.007},
{"k":13,"x":-1,"y":0},{"k":13,"x":-0.9,"y":-0.019},{"k":13,"x":-0.8,"y":-0.025},{"k":13,"x":-0.7,"y":-0.02},{"k":13,"x":-0.6,"y":-0.001},{"k":13,"x":-0.5,"y":0.018},{"k":13,"x":-0.4,"y":0.039},{"k":13,"x":-0.2,"y":0.082},{"k":13,"x":0,"y":0.129},{"k":13,"x":0.2,"y":0.16},{"k":13,"x":0.4,"y":0.153},{"k":13,"x":0.6,"y":0.103},{"k":13,"x":0.8,"y":0.036},{"k":13,"x":1,"y":-0.053},
{"k":14,"x":-1,"y":0},{"k":14,"x":-0.9,"y":-0.009},{"k":14,"x":-0.8,"y":-0.009},{"k":14,"x":-0.7,"y":-0.003},{"k":14,"x":-0.6,"y":0.014},{"k":14,"x":-0.5,"y":0.027},{"k":14,"x":-0.4,"y":0.044},{"k":14,"x":-0.2,"y":0.085},{"k":14,"x":0,"y":0.128},{"k":14,"x":0.2,"y":0.151},{"k":14,"x":0.4,"y":0.134},{"k":14,"x":0.6,"y":0.072},{"k":14,"x":0.8,"y":-0.005},{"k":14,"x":1,"y":-0.108},
{"k":15,"x":-1,"y":0},{"k":15,"x":-0.9,"y":0.002},{"k":15,"x":-0.8,"y":0.007},{"k":15,"x":-0.7,"y":0.015},{"k":15,"x":-0.6,"y":0.027},{"k":15,"x":-0.5,"y":0.034},{"k":15,"x":-0.4,"y":0.045},{"k":15,"x":-0.2,"y":0.08},{"k":15,"x":0,"y":0.115},{"k":15,"x":0.2,"y":0.128},{"k":15,"x":0.4,"y":0.102},{"k":15,"x":0.6,"y":0.034},{"k":15,"x":0.8,"y":-0.045},{"k":15,"x":1,"y":-0.152},
{"k":16,"x":-1,"y":0},{"k":16,"x":-0.9,"y":0.013},{"k":16,"x":-0.8,"y":0.023},{"k":16,"x":-0.7,"y":0.031},{"k":16,"x":-0.6,"y":0.038},{"k":16,"x":-0.5,"y":0.037},{"k":16,"x":-0.4,"y":0.041},{"k":16,"x":-0.2,"y":0.067},{"k":16,"x":0,"y":0.09},{"k":16,"x":0.2,"y":0.092},{"k":16,"x":0.4,"y":0.059},{"k":16,"x":0.6,"y":-0.007},{"k":16,"x":0.8,"y":-0.08},{"k":16,"x":1,"y":-0.181},
{"k":17,"x":-1,"y":0},{"k":17,"x":-0.9,"y":0.022},{"k":17,"x":-0.8,"y":0.037},{"k":17,"x":-0.7,"y":0.044},{"k":17,"x":-0.6,"y":0.044},{"k":17,"x":-0.5,"y":0.036},{"k":17,"x":-0.4,"y":0.033},{"k":17,"x":-0.2,"y":0.048},{"k":17,"x":0,"y":0.057},{"k":17,"x":0.2,"y":0.047},{"k":17,"x":0.4,"y":0.011},{"k":17,"x":0.6,"y":-0.047},{"k":17,"x":0.8,"y":-0.108},{"k":17,"x":1,"y":-0.193},
{"k":18,"x":-1,"y":0},{"k":18,"x":-0.9,"y":0.029},{"k":18,"x":-0.8,"y":0.047},{"k":18,"x":-0.7,"y":0.052},{"k":18,"x":-0.6,"y":0.047},{"k":18,"x":-0.5,"y":0.032},{"k":18,"x":-0.4,"y":0.022},{"k":18,"x":-0.2,"y":0.024},{"k":18,"x":0,"y":0.018},{"k":18,"x":0.2,"y":-0.003},{"k":18,"x":0.4,"y":-0.038},{"k":18,"x":0.6,"y":-0.083},{"k":18,"x":0.8,"y":-0.125},{"k":18,"x":1,"y":-0.186},
{"k":19,"x":-1,"y":0},{"k":19,"x":-0.9,"y":0.034},{"k":19,"x":-0.8,"y":0.052},{"k":19,"x":-0.7,"y":0.056},{"k":19,"x":-0.6,"y":0.045},{"k":19,"x":-0.5,"y":0.025},{"k":19,"x":-0.4,"y":0.009},{"k":19,"x":-0.2,"y":-0.003},{"k":19,"x":0,"y":-0.023},{"k":19,"x":0.2,"y":-0.052},{"k":19,"x":0.4,"y":-0.084},{"k":19,"x":0.6,"y":-0.111},{"k":19,"x":0.8,"y":-0.13},{"k":19,"x":1,"y":-0.16}
],
"p6": [
{"k":0,"x":-1,"y":0.5},{"k":0,"x":-0.8,"y":0.416},{"k":0,"x":-0.6,"y":0.26},{"k":0,"x":-0.5,"y":0.169},{"k":0,"x":-0.4,"y":0.039},{"k":0,"x":-0.2,"y":-0.083},{"k":0,"x":0,"y":-0.187},{"k":0,"x":0.2,"y":-0.253},{"k":0,"x":0.4,"y":-0.312},{"k":0,"x":0.6,"y":-0.476},{"k":0,"x":0.8,"y":-0.611},{"k":0,"x":1,"y":-0.797},
{"k":1,"x":-1,"y":0.476},{"k":1,"x":-0.8,"y":0.377},{"k":1,"x":-0.6,"y":0.201},{"k":1,"x":-0.5,"y":0.094},{"k":1,"x":-0.4,"y":-0.061},{"k":1,"x":-0.2,"y":-0.225},{"k":1,"x":0,"y":-0.367},{"k":1,"x":0.2,"y":-0.456},{"k":1,"x":0.4,"y":-0.478},{"k":1,"x":0.6,"y":-0.538},{"k":1,"x":0.8,"y":-0.547},{"k":1,"x":1,"y":-0.616},
{"k":2,"x":-1,"y":0.405},{"k":2,"x":-0.8,"y":0.302},{"k":2,"x":-0.6,"y":0.122},{"k":2,"x":-0.5,"y":0.01},{"k":2,"x":-0.4,"y":-0.155},{"k":2,"x":-0.2,"y":-0.345},{"k":2,"x":0,"y":-0.511},{"k":2,"x":0.2,"y":-0.614},{"k":2,"x":0.4,"y":-0.598},{"k":2,"x":0.6,"y":-0.547},{"k":2,"x":0.8,"y":-0.431},{"k":2,"x":1,"y":-0.374},
{"k":3,"x":-1,"y":0.294},{"k":3,"x":-0.8,"y":0.197},{"k":3,"x":-0.6,"y":0.031},{"k":3,"x":-0.5,"y":-0.076},{"k":3,"x":-0.4,"y":-0.234},{"k":3,"x":-0.2,"y":-0.431},{"k":3,"x":0,"y":-0.605},{"k":3,"x":0.2,"y":-0.711},{"k":3,"x":0.4,"y":-0.659},{"k":3,"x":0.6,"y":-0.503},{"k":3,"x":0.8,"y":-0.272},{"k":3,"x":1,"y":-0.096},
{"k":4,"x":-1,"y":0.155},{"k":4,"x":-0.8,"y":0.073},{"k":4,"x":-0.6,"y":-0.062},{"k":4,"x":-0.5,"y":-0.154},{"k":4,"x":-0.4,"y":-0.29},{"k":4,"x":-0.2,"y":-0.475},{"k":4,"x":0,"y":-0.64},{"k":4,"x":0.2,"y":-0.74},{"k":4,"x":0.4,"y":-0.655},{"k":4,"x":0.6,"y":-0.409},{"k":4,"x":0.8,"y":-0.086},{"k":4,"x":1,"y":0.191},
{"k":5,"x":-1,"y":0},{"k":5,"x":-0.8,"y":-0.059},{"k":5,"x":-0.6,"y":-0.15},{"k":5,"x":-0.5,"y":-0.217},{"k":5,"x":-0.4,"y":-0.318},{"k":5,"x":-0.2,"y":-0.473},{"k":5,"x":0,"y":-0.612},{"k":5,"x":0.2,"y":-0.695},{"k":5,"x":0.4,"y":-0.587},{"k":5,"x":0.6,"y":-0.275},{"k":5,"x":0.8,"y":0.108},{"k":5,"x":1,"y":0.46},
{"k":6,"x":-1,"y":-0.155},{"k":6,"x":-0.8,"y":-0.184},{"k":6,"x":-0.6,"y":-0.223},{"k":6,"x":-0.5,"y":-0.258},{"k":6,"x":-0.4,"y":-0.314},{"k":6,"x":-0.2,"y":-0.424},{"k":6,"x":0,"y":-0.524},{"k":6,"x":0.2,"y":-0.583},{"k":6,"x":0.4,"y":-0.462},{"k":6,"x":0.6,"y":-0.114},{"k":6,"x":0.8,"y":0.291},{"k":6,"x":1,"y":0.684},
{"k":7,"x":-1,"y":-0.294},{"k":7,"x":-0.8,"y":-0.292},{"k":7,"x":-0.6,"y":-0.274},{"k":7,"x":-0.5,"y":-0.275},{"k":7,"x":-0.4,"y":-0.28},{"k":7,"x":-0.2,"y":-0.333},{"k":7,"x":0,"y":-0.385},{"k":7,"x":0.2,"y":-0.414},{"k":7,"x":0.4,"y":-0.291},{"k":7,"x":0.6,"y":0.058},{"k":7,"x":0.8,"y":0.446},{"k":7,"x":1,"y":0.841},
{"k":8,"x":-1,"y":-0.405},{"k":8,"x":-0.8,"y":-0.371},{"k":8,"x":-0.6,"y":-0.298},{"k":8,"x":-0.5,"y":-0.264},{"k":8,"x":-0.4,"y":-0.218},{"k":8,"x":-0.2,"y":-0.21},{"k":8,"x":0,"y":-0.209},{"k":8,"x":0.2,"y":-0.204},{"k":8,"x":0.4,"y":-0.093},{"k":8,"x":0.6,"y":0.224},{"k":8,"x":0.8,"y":0.557},{"k":8,"x":1,"y":0.915},
{"k":9,"x":-1,"y":-0.476},{"k":9,"x":-0.8,"y":-0.414},{"k":9,"x":-0.6,"y":-0.294},{"k":9,"x":-0.5,"y":-0.228},{"k":9,"x":-0.4,"y":-0.135},{"k":9,"x":-0.2,"y":-0.067},{"k":9,"x":0,"y":-0.011},{"k":9,"x":0.2,"y":0.026},{"k":9,"x":0.4,"y":0.116},{"k":9,"x":0.6,"y":0.368},{"k":9,"x":0.8,"y":0.614},{"k":9,"x":1,"y":0.9},
{"k":10,"x":-1,"y":-0.5},{"k":10,"x":-0.8,"y":-0.416},{"k":10,"x":-0.6,"y":-0.26},{"k":10,"x":-0.5,"y":-0.169},{"k":10,"x":-0.4,"y":-0.039},{"k":10,"x":-0.2,"y":0.083},{"k":10,"x":0,"y":0.187},{"k":10,"x":0.2,"y":0.253},{"k":10,"x":0.4,"y":0.312},{"k":10,"x":0.6,"y":0.476},{"k":10,"x":0.8,"y":0.611},{"k":10,"x":1,"y":0.797},
{"k":11,"x":-1,"y":-0.476},{"k":11,"x":-0.8,"y":-0.377},{"k":11,"x":-0.6,"y":-0.201},{"k":11,"x":-0.5,"y":-0.094},{"k":11,"x":-0.4,"y":0.061},{"k":11,"x":-0.2,"y":0.225},{"k":11,"x":0,"y":0.367},{"k":11,"x":0.2,"y":0.456},{"k":11,"x":0.4,"y":0.478},{"k":11,"x":0.6,"y":0.538},{"k":11,"x":0.8,"y":0.547},{"k":11,"x":1,"y":0.616},
{"k":12,"x":-1,"y":-0.405},{"k":12,"x":-0.8,"y":-0.302},{"k":12,"x":-0.6,"y":-0.122},{"k":12,"x":-0.5,"y":-0.01},{"k":12,"x":-0.4,"y":0.155},{"k":12,"x":-0.2,"y":0.345},{"k":12,"x":0,"y":0.511},{"k":12,"x":0.2,"y":0.614},{"k":12,"x":0.4,"y":0.598},{"k":12,"x":0.6,"y":0.547},{"k":12,"x":0.8,"y":0.431},{"k":12,"x":1,"y":0.374},
{"k":13,"x":-1,"y":-0.294},{"k":13,"x":-0.8,"y":-0.197},{"k":13,"x":-0.6,"y":-0.031},{"k":13,"x":-0.5,"y":0.076},{"k":13,"x":-0.4,"y":0.234},{"k":13,"x":-0.2,"y":0.431},{"k":13,"x":0,"y":0.605},{"k":13,"x":0.2,"y":0.711},{"k":13,"x":0.4,"y":0.659},{"k":13,"x":0.6,"y":0.503},{"k":13,"x":0.8,"y":0.272},{"k":13,"x":1,"y":0.096},
{"k":14,"x":-1,"y":-0.155},{"k":14,"x":-0.8,"y":-0.073},{"k":14,"x":-0.6,"y":0.062},{"k":14,"x":-0.5,"y":0.154},{"k":14,"x":-0.4,"y":0.29},{"k":14,"x":-0.2,"y":0.475},{"k":14,"x":0,"y":0.64},{"k":14,"x":0.2,"y":0.74},{"k":14,"x":0.4,"y":0.655},{"k":14,"x":0.6,"y":0.409},{"k":14,"x":0.8,"y":0.086},{"k":14,"x":1,"y":-0.191},
{"k":15,"x":-1,"y":0},{"k":15,"x":-0.8,"y":0.059},{"k":15,"x":-0.6,"y":0.15},{"k":15,"x":-0.5,"y":0.217},{"k":15,"x":-0.4,"y":0.318},{"k":15,"x":-0.2,"y":0.473},{"k":15,"x":0,"y":0.612},{"k":15,"x":0.2,"y":0.695},{"k":15,"x":0.4,"y":0.587},{"k":15,"x":0.6,"y":0.275},{"k":15,"x":0.8,"y":-0.108},{"k":15,"x":1,"y":-0.46},
{"k":16,"x":-1,"y":0.155},{"k":16,"x":-0.8,"y":0.184},{"k":16,"x":-0.6,"y":0.223},{"k":16,"x":-0.5,"y":0.258},{"k":16,"x":-0.4,"y":0.314},{"k":16,"x":-0.2,"y":0.424},{"k":16,"x":0,"y":0.524},{"k":16,"x":0.2,"y":0.583},{"k":16,"x":0.4,"y":0.462},{"k":16,"x":0.6,"y":0.114},{"k":16,"x":0.8,"y":-0.291},{"k":16,"x":1,"y":-0.684},
{"k":17,"x":-1,"y":0.294},{"k":17,"x":-0.8,"y":0.292},{"k":17,"x":-0.6,"y":0.274},{"k":17,"x":-0.5,"y":0.275},{"k":17,"x":-0.4,"y":0.28},{"k":17,"x":-0.2,"y":0.333},{"k":17,"x":0,"y":0.385},{"k":17,"x":0.2,"y":0.414},{"k":17,"x":0.4,"y":0.291},{"k":17,"x":0.6,"y":-0.058},{"k":17,"x":0.8,"y":-0.446},{"k":17,"x":1,"y":-0.841},
{"k":18,"x":-1,"y":0.405},{"k":18,"x":-0.8,"y":0.371},{"k":18,"x":-0.6,"y":0.298},{"k":18,"x":-0.5,"y":0.264},{"k":18,"x":-0.4,"y":0.218},{"k":18,"x":-0.2,"y":0.21},{"k":18,"x":0,"y":0.209},{"k":18,"x":0.2,"y":0.204},{"k":18,"x":0.4,"y":0.093},{"k":18,"x":0.6,"y":-0.224},{"k":18,"x":0.8,"y":-0.557},{"k":18,"x":1,"y":-0.915},
{"k":19,"x":-1,"y":0.476},{"k":19,"x":-0.8,"y":0.414},{"k":19,"x":-0.6,"y":0.294},{"k":19,"x":-0.5,"y":0.228},{"k":19,"x":-0.4,"y":0.135},{"k":19,"x":-0.2,"y":0.067},{"k":19,"x":0,"y":0.011},{"k":19,"x":0.2,"y":-0.026},{"k":19,"x":0.4,"y":-0.116},{"k":19,"x":0.6,"y":-0.368},{"k":19,"x":0.8,"y":-0.614},{"k":19,"x":1,"y":-0.9}
]
},
"bounds": "flush",
"columns": 2,
"spacing": {"row": 87, "column": 75},
"concat": [
 {"title": "Pitching alone", "width": 389, "height": 180, "data": {"name": "p1"},
  "layer": [
   {"mark": "line", "encoding": {
     "x": {"field": "x", "type": "quantitative", "scale": {"domain": [-1, 1], "nice": false, "zero": false}, "axis": {"values": [-1, -0.5, 0, 0.5, 1], "labelExpr": "datum.value == 0 ? '0' : format(datum.value, '.1f')"}},
     "y": {"field": "y", "type": "quantitative", "scale": {"domain": [-0.2, 0.2], "nice": false}, "axis": {"values": [-0.2, 0, 0.2], "format": "~g"}},
     "detail": {"field": "k", "type": "nominal"},
     "color": {"field": "k", "type": "quantitative", "scale": {"domain": [0, 19], "range": ["#000000", "#c4c4c4"], "interpolate": "rgb"}, "legend": null}}},
   {"mark": {"type": "line", "strokeOpacity": 0}, "encoding": {
     "x": {"field": "x", "type": "quantitative", "axis": {"orient": "top", "values": [-0.5, 0, 0.5], "labels": false}},
     "y": {"field": "y", "type": "quantitative", "axis": {"orient": "right", "values": [0], "labels": false}},
     "detail": {"field": "k", "type": "nominal"}}}
  ],
  "resolve": {"axis": {"x": "independent", "y": "independent"}}},
 {"title": "Heaving alone", "width": 389, "height": 180, "data": {"name": "p2"},
  "layer": [
   {"mark": "line", "encoding": {
     "x": {"field": "x", "type": "quantitative", "scale": {"domain": [-1, 1], "nice": false, "zero": false}, "axis": {"values": [-1, -0.5, 0, 0.5, 1], "labelExpr": "datum.value == 0 ? '0' : format(datum.value, '.1f')"}},
     "y": {"field": "y", "type": "quantitative", "scale": {"domain": [-1, 1], "nice": false}, "axis": {"values": [-1, 0, 1], "format": "~g"}},
     "detail": {"field": "k", "type": "nominal"},
     "color": {"field": "k", "type": "quantitative", "scale": {"domain": [0, 19], "range": ["#000000", "#c4c4c4"], "interpolate": "rgb"}, "legend": null}}},
   {"mark": {"type": "line", "strokeOpacity": 0}, "encoding": {
     "x": {"field": "x", "type": "quantitative", "axis": {"orient": "top", "values": [-0.5, 0, 0.5], "labels": false}},
     "y": {"field": "y", "type": "quantitative", "axis": {"orient": "right", "values": [0], "labels": false}},
     "detail": {"field": "k", "type": "nominal"}}}
  ],
  "resolve": {"axis": {"x": "independent", "y": "independent"}}},
 {"title": "Pitching and shifting: max Pₒᵤₜ", "width": 389, "height": 180, "data": {"name": "p3"},
  "layer": [
   {"mark": "line", "encoding": {
     "x": {"field": "x", "type": "quantitative", "scale": {"domain": [-1, 1], "nice": false, "zero": false}, "axis": {"values": [-1, -0.5, 0, 0.5, 1], "labelExpr": "datum.value == 0 ? '0' : format(datum.value, '.1f')"}},
     "y": {"field": "y", "type": "quantitative", "scale": {"domain": [-0.5, 0.5], "nice": false}, "axis": {"values": [-0.5, 0, 0.5], "format": "~g"}},
     "detail": {"field": "k", "type": "nominal"},
     "color": {"field": "k", "type": "quantitative", "scale": {"domain": [0, 19], "range": ["#000000", "#c4c4c4"], "interpolate": "rgb"}, "legend": null}}},
   {"mark": {"type": "line", "strokeOpacity": 0}, "encoding": {
     "x": {"field": "x", "type": "quantitative", "axis": {"orient": "top", "values": [-0.5, 0, 0.5], "labels": false}},
     "y": {"field": "y", "type": "quantitative", "axis": {"orient": "right", "values": [0], "labels": false}},
     "detail": {"field": "k", "type": "nominal"}}}
  ],
  "resolve": {"axis": {"x": "independent", "y": "independent"}}},
 {"title": "Heaving and shifting: max Pₒᵤₜ", "width": 389, "height": 180, "data": {"name": "p4"},
  "layer": [
   {"mark": "line", "encoding": {
     "x": {"field": "x", "type": "quantitative", "scale": {"domain": [-1, 1], "nice": false, "zero": false}, "axis": {"values": [-1, -0.5, 0, 0.5, 1], "labelExpr": "datum.value == 0 ? '0' : format(datum.value, '.1f')"}},
     "y": {"field": "y", "type": "quantitative", "scale": {"domain": [-2, 2], "nice": false}, "axis": {"values": [-2, 0, 2], "format": "~g"}},
     "detail": {"field": "k", "type": "nominal"},
     "color": {"field": "k", "type": "quantitative", "scale": {"domain": [0, 19], "range": ["#000000", "#c4c4c4"], "interpolate": "rgb"}, "legend": null}}},
   {"mark": {"type": "line", "strokeOpacity": 0}, "encoding": {
     "x": {"field": "x", "type": "quantitative", "axis": {"orient": "top", "values": [-0.5, 0, 0.5], "labels": false}},
     "y": {"field": "y", "type": "quantitative", "axis": {"orient": "right", "values": [0], "labels": false}},
     "detail": {"field": "k", "type": "nominal"}}}
  ],
  "resolve": {"axis": {"x": "independent", "y": "independent"}}},
 {"title": "Pitching and shifting: max Pₒᵤₜ − Pᵢₙ", "width": 389, "height": 180, "data": {"name": "p5"},
  "layer": [
   {"mark": "line", "encoding": {
     "x": {"field": "x", "type": "quantitative", "scale": {"domain": [-1, 1], "nice": false, "zero": false}, "axis": {"values": [-1, -0.5, 0, 0.5, 1], "labelExpr": "datum.value == 0 ? '0' : format(datum.value, '.1f')"}},
     "y": {"field": "y", "type": "quantitative", "scale": {"domain": [-0.2, 0.2], "nice": false}, "axis": {"values": [-0.2, 0, 0.2], "format": "~g"}},
     "detail": {"field": "k", "type": "nominal"},
     "color": {"field": "k", "type": "quantitative", "scale": {"domain": [0, 19], "range": ["#000000", "#c4c4c4"], "interpolate": "rgb"}, "legend": null}}},
   {"mark": {"type": "line", "strokeOpacity": 0}, "encoding": {
     "x": {"field": "x", "type": "quantitative", "axis": {"orient": "top", "values": [-0.5, 0, 0.5], "labels": false}},
     "y": {"field": "y", "type": "quantitative", "axis": {"orient": "right", "values": [0], "labels": false}},
     "detail": {"field": "k", "type": "nominal"}}}
  ],
  "resolve": {"axis": {"x": "independent", "y": "independent"}}},
 {"title": "Heaving and shifting: max  Pₒᵤₜ − Pᵢₙ", "width": 389, "height": 180, "data": {"name": "p6"},
  "layer": [
   {"mark": "line", "encoding": {
     "x": {"field": "x", "type": "quantitative", "scale": {"domain": [-1, 1], "nice": false, "zero": false}, "axis": {"values": [-1, -0.5, 0, 0.5, 1], "labelExpr": "datum.value == 0 ? '0' : format(datum.value, '.1f')"}},
     "y": {"field": "y", "type": "quantitative", "scale": {"domain": [-1, 1], "nice": false}, "axis": {"values": [-1, 0, 1], "format": "~g"}},
     "detail": {"field": "k", "type": "nominal"},
     "color": {"field": "k", "type": "quantitative", "scale": {"domain": [0, 19], "range": ["#000000", "#c4c4c4"], "interpolate": "rgb"}, "legend": null}}},
   {"mark": {"type": "line", "strokeOpacity": 0}, "encoding": {
     "x": {"field": "x", "type": "quantitative", "axis": {"orient": "top", "values": [-0.5, 0, 0.5], "labels": false}},
     "y": {"field": "y", "type": "quantitative", "axis": {"orient": "right", "values": [0], "labels": false}},
     "detail": {"field": "k", "type": "nominal"}}}
  ],
  "resolve": {"axis": {"x": "independent", "y": "independent"}}}
]
}
